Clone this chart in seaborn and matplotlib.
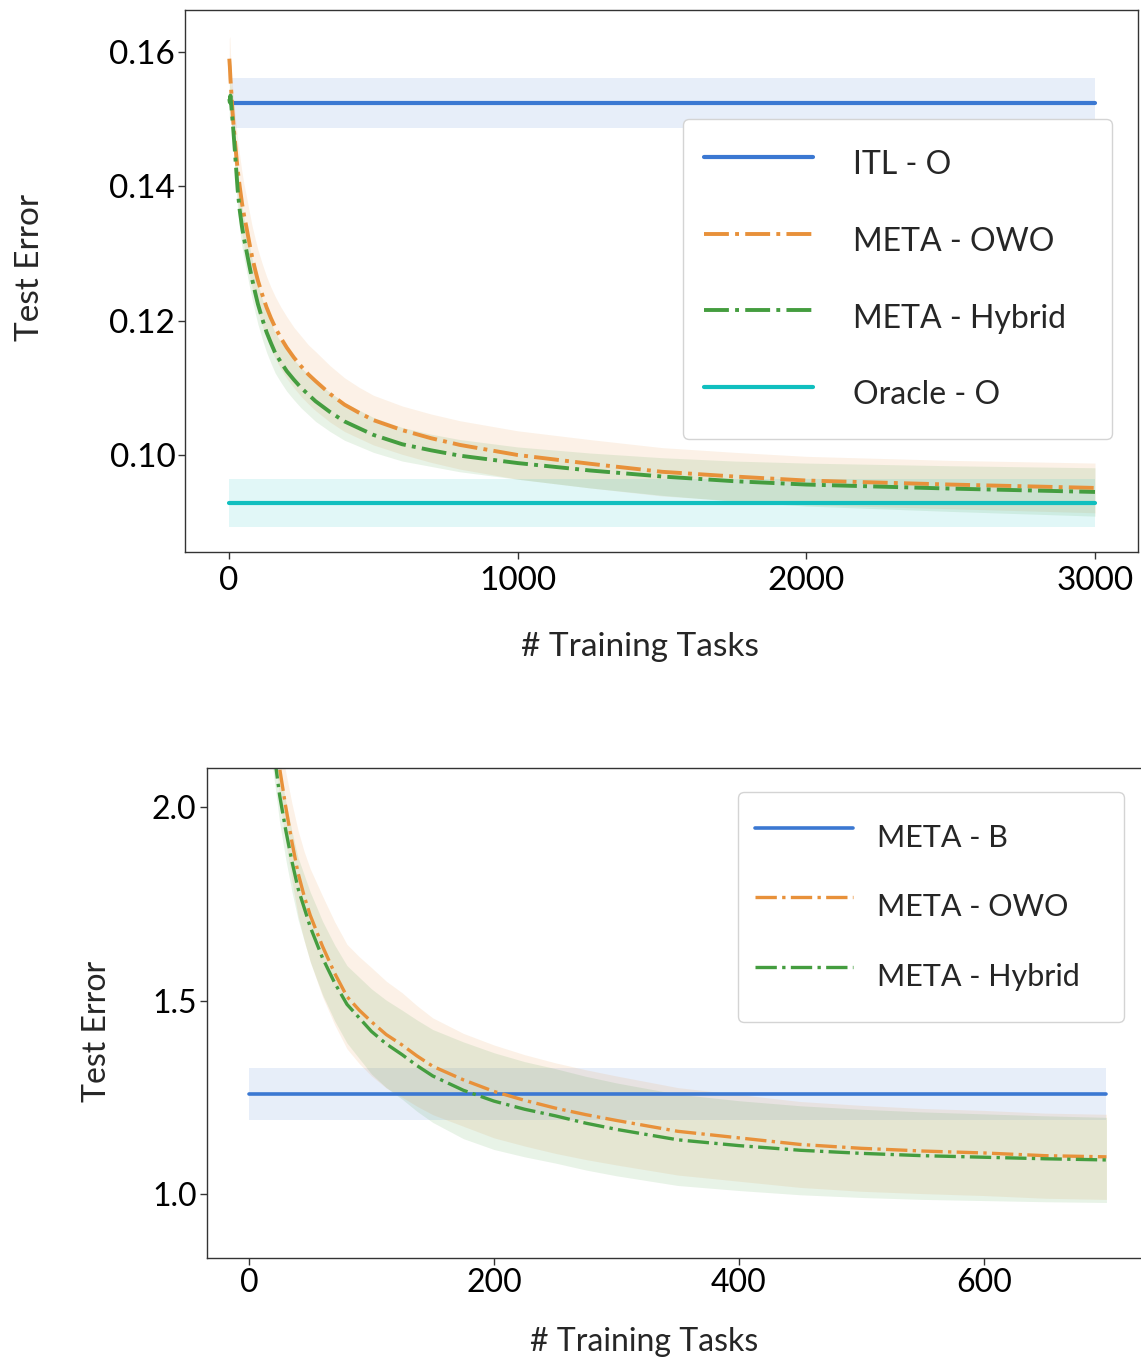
import numpy as np
import pandas as pd
import matplotlib
matplotlib.use("Agg")
import matplotlib.pyplot as plt
import seaborn as sns

# ---------------- data: top panel ----------------
top_x = [1, 3, 5, 8, 12, 16, 20, 25, 30, 37, 45, 52, 60, 70, 80, 90, 100, 115, 130,
         145, 160, 180, 200, 225, 250, 275, 300, 350, 400, 450, 500, 600, 700, 800,
         1000, 1250, 1500, 1750, 2000, 2500, 3000]
top_owo = [0.1590, 0.1578, 0.1560, 0.1540, 0.1512, 0.1490, 0.1470, 0.1447, 0.1425,
           0.1400, 0.1375, 0.1357, 0.1340, 0.1317, 0.1295, 0.1277, 0.1260, 0.1239,
           0.1220, 0.1204, 0.1190, 0.1174, 0.1160, 0.1145, 0.1132, 0.1120, 0.1110,
           0.1091, 0.1075, 0.1063, 0.1052, 0.1037, 0.1025, 0.1015, 0.1000, 0.0987,
           0.0975, 0.0968, 0.0962, 0.0956, 0.0951]
top_owo_std = [0.0030, 0.0045, 0.0040, 0.0036, 0.0038, 0.0040, 0.0042, 0.0044, 0.0045,
               0.0046, 0.0046, 0.0046, 0.0046, 0.0046, 0.0046, 0.0046, 0.0046, 0.0046,
               0.0046, 0.0046, 0.0046, 0.0046, 0.0046, 0.0045, 0.0045, 0.0044, 0.0044,
               0.0042, 0.0040, 0.0038, 0.0037, 0.0036, 0.0036, 0.0036, 0.0036, 0.0036,
               0.0036, 0.0036, 0.0036, 0.0036, 0.0037]
top_hyb = [0.1530, 0.1525, 0.1535, 0.1520, 0.1500, 0.1478, 0.1455, 0.1425, 0.1395,
           0.1365, 0.1340, 0.1322, 0.1305, 0.1283, 0.1262, 0.1243, 0.1225, 0.1203,
           0.1183, 0.1167, 0.1152, 0.1138, 0.1125, 0.1112, 0.1100, 0.1090, 0.1080,
           0.1064, 0.1050, 0.1040, 0.1030, 0.1016, 0.1007, 0.0999, 0.0988, 0.0977,
           0.0968, 0.0961, 0.0956, 0.0950, 0.0945]
top_hyb_std = [0.0025, 0.0030, 0.0030, 0.0030, 0.0030, 0.0030, 0.0030, 0.0030, 0.0030,
               0.0030, 0.0030, 0.0030, 0.0030, 0.0030, 0.0030, 0.0030, 0.0030, 0.0030,
               0.0030, 0.0030, 0.0030, 0.0030, 0.0030, 0.0030, 0.0030, 0.0030, 0.0030,
               0.0029, 0.0028, 0.0027, 0.0026, 0.0025, 0.0024, 0.0024, 0.0024, 0.0026,
               0.0028, 0.0030, 0.0032, 0.0034, 0.0036]
itl_x = [10, 3000]
itl_mean = [0.1524, 0.1524]
itl_std = 0.0037
oracle_x = [0, 3000]
oracle_mean = [0.0929, 0.0929]
oracle_std = 0.0036

# ---------------- data: bottom panel ----------------
bot_x = [10, 15, 20, 25, 30, 35, 40, 45, 50, 55, 60, 70, 80, 90, 100, 112, 125, 137,
         150, 175, 200, 225, 250, 275, 300, 350, 400, 450, 500, 550, 600, 650, 700]
bot_owo = [2.55, 2.40, 2.26, 2.10, 2.00, 1.91, 1.83, 1.77, 1.72, 1.68, 1.64, 1.57,
           1.51, 1.475, 1.445, 1.412, 1.385, 1.357, 1.33, 1.295, 1.265, 1.242, 1.222,
           1.205, 1.190, 1.162, 1.145, 1.128, 1.118, 1.111, 1.106, 1.099, 1.096]
bot_owo_std = [0.06, 0.07, 0.075, 0.08, 0.09, 0.10, 0.11, 0.115, 0.12, 0.125, 0.13,
               0.133, 0.135, 0.138, 0.14, 0.138, 0.135, 0.13, 0.125, 0.12, 0.12, 0.118,
               0.117, 0.116, 0.115, 0.113, 0.112, 0.111, 0.111, 0.110, 0.110, 0.110, 0.110]
bot_hyb = [2.40, 2.27, 2.15, 2.03, 1.94, 1.86, 1.79, 1.74, 1.69, 1.65, 1.61, 1.545,
           1.49, 1.455, 1.42, 1.388, 1.36, 1.332, 1.305, 1.268, 1.240, 1.219, 1.202,
           1.183, 1.167, 1.140, 1.125, 1.113, 1.105, 1.099, 1.095, 1.091, 1.088]
bot_hyb_std = [0.05, 0.06, 0.065, 0.07, 0.075, 0.078, 0.08, 0.085, 0.09, 0.093, 0.095,
               0.098, 0.10, 0.105, 0.11, 0.113, 0.115, 0.118, 0.12, 0.125, 0.125, 0.123,
               0.122, 0.121, 0.12, 0.118, 0.116, 0.115, 0.114, 0.113, 0.112, 0.111, 0.110]
b_x = [0, 700]
b_mean = [1.258, 1.258]
b_std = 0.068

# ---------------- style ----------------
sns.set_theme(style="ticks")
plt.rcParams['font.family'] = ['Lato', 'DejaVu Sans']

C_BLUE = "#3b78d2"
C_ORANGE = "#e8913a"
C_GREEN = "#449d3f"
C_CYAN = "#10bfbf"
BAND_A = 0.12

fig = plt.figure(figsize=(11.41, 13.58), dpi=100)
ax1 = fig.add_axes([185 / 1141, 1 - 552 / 1358, (1138 - 185) / 1141, (552 - 10) / 1358])
ax2 = fig.add_axes([207 / 1141, 1 - 1258 / 1358, (1144.4 - 207) / 1141, (1258 - 768) / 1358])


def draw(ax, x, mean, std, color, ls, lw, label):
    mean = np.asarray(mean, float)
    std = np.asarray(std, float) * np.ones_like(mean)
    ax.fill_between(x, mean - std, mean + std, color=color, alpha=BAND_A, lw=0)
    df = pd.DataFrame({"x": x, "y": mean})
    sns.lineplot(data=df, x="x", y="y", ax=ax, color=color, linestyle=ls, lw=lw,
                 label=label)


# ---------- top ----------
draw(ax1, itl_x, itl_mean, itl_std, C_BLUE, "-", 3.0, "ITL - O")
draw(ax1, top_x, top_owo, top_owo_std, C_ORANGE, "-.", 2.8, "META - OWO")
draw(ax1, top_x, top_hyb, top_hyb_std, C_GREEN, "-.", 2.8, "META - Hybrid")
draw(ax1, oracle_x, oracle_mean, oracle_std, C_CYAN, "-", 3.0, "Oracle - O")
ax1.set_xlim(-152.4, 3149)
ax1.set_ylim(0.08556, 0.16625)
ax1.set_xticks([0, 1000, 2000, 3000])
ax1.set_yticks([0.10, 0.12, 0.14, 0.16])
ax1.set_yticklabels(["0.10", "0.12", "0.14", "0.16"])
ax1.set_xlabel("# Training Tasks", fontsize=24)
ax1.set_ylabel("Test Error", fontsize=24)
ax1.xaxis.set_label_coords(0.4774, -0.148)
ax1.yaxis.set_label_coords(-0.147, 0.525)
ax1.tick_params(axis="both", labelsize=24)

leg1 = ax1.legend(loc="upper left", bbox_to_anchor=(0.5226, 0.2011, 0.4502, 0.598),
                  mode="expand", fontsize=23, handlelength=3.4, handletextpad=1.25,
                  handleheight=1.96, labelspacing=0.88, borderpad=0.66, frameon=True,
                  fancybox=True, framealpha=1.0, edgecolor="#d4d4d4", borderaxespad=0)

# ---------- bottom ----------
draw(ax2, b_x, b_mean, b_std, C_BLUE, "-", 2.6, "META - B")
draw(ax2, bot_x, bot_owo, bot_owo_std, C_ORANGE, "-.", 2.4, "META - OWO")
draw(ax2, bot_x, bot_hyb, bot_hyb_std, C_GREEN, "-.", 2.4, "META - Hybrid")
ax2.set_xlim(-34.3, 731)
ax2.set_ylim(0.8346, 2.1008)
ax2.set_xticks([0, 200, 400, 600])
ax2.set_yticks([1.0, 1.5, 2.0])
ax2.set_yticklabels(["1.0", "1.5", "2.0"])
ax2.set_xlabel("# Training Tasks", fontsize=23)
ax2.set_ylabel("Test Error", fontsize=23)
ax2.xaxis.set_label_coords(0.466, -0.141)
ax2.yaxis.set_label_coords(-0.1014, 0.463)
ax2.tick_params(axis="both", labelsize=23)

leg2 = ax2.legend(loc="upper left", bbox_to_anchor=(0.5665, 0.5, 0.4118, 0.451),
                  mode="expand", fontsize=22, handlelength=3.2, handletextpad=0.8,
                  handleheight=2.5, labelspacing=0.40, borderpad=0.56, frameon=True,
                  fancybox=True, framealpha=1.0, edgecolor="#d4d4d4", borderaxespad=0)

for ax in (ax1, ax2):
    ax.tick_params(axis="both", length=5, width=1, color="#333333", labelcolor="black")
    for s in ax.spines.values():
        s.set_color("#333333")
        s.set_linewidth(1.0)
ax1.tick_params(axis="y", pad=2)
ax2.tick_params(axis="y", pad=2.5)
ax1.tick_params(axis="x", pad=5)
ax2.tick_params(axis="x", pad=2)

fig.savefig("out.png", dpi=100, facecolor="white")
